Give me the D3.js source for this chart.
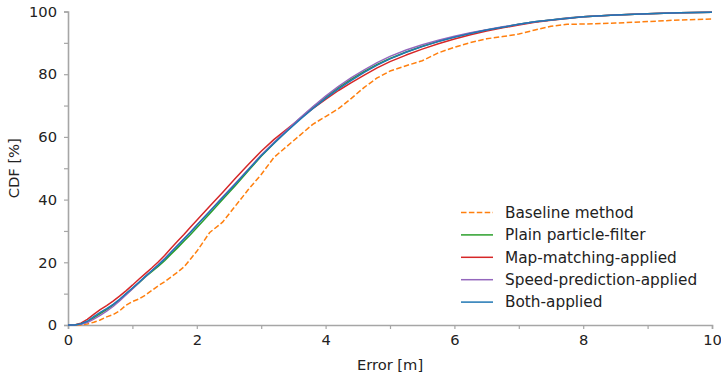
<!DOCTYPE html>
<html>
<head>
<meta charset="utf-8">
<script src="https://cdn.jsdelivr.net/npm/d3@7"></script>
<style>
  html, body { margin: 0; padding: 0; background: #fff; }
  svg { display: block; }
  text { font-family: "DejaVu Sans", sans-serif; fill: #222; }
</style>
</head>
<body>
<svg id="chart" width="721" height="377"></svg>
<script>
// Localisation error grid (m)
const errorGrid = [0,0.1,0.2,0.3,0.4,0.5,0.6,0.7,0.8,0.9,1.0,1.1,1.2,1.3,1.4,1.5,1.6,1.7,1.8,1.9,2.0,
  2.2,2.4,2.6,2.8,3.0,3.2,3.4,3.6,3.8,4.0,4.2,4.4,4.6,4.8,5.0,
  5.25,5.5,5.75,6.0,6.25,6.5,6.75,7.0,7.25,7.5,7.75,8.0,8.5,9.0,9.5,10.0];

// Cumulative share of samples (%) at each grid point
const baseline = [0,0,0,0.3,0.9,1.6,2.6,3.3,4.5,6.3,7.5,8.3,9.5,11.0,12.5,13.8,15.3,16.8,18.5,21.0,23.5,
  29.5,32.8,38.0,43.2,48.0,53.5,57.0,60.5,64.0,66.5,69.0,72.3,75.8,78.8,81.0,
  82.7,84.3,86.8,88.6,90.1,91.3,92.0,92.8,94.1,95.3,95.9,96.0,96.3,96.8,97.3,97.6];
const plainPF = [0,0,0.3,1.0,2.3,3.6,4.9,6.3,7.9,9.8,11.6,13.4,15.3,17.0,18.7,20.5,22.6,24.6,26.7,28.8,31.0,
  35.5,40.0,44.5,49.2,53.8,58.0,62.0,65.8,69.4,72.7,75.7,78.4,80.9,83.1,85.0,
  87.1,88.9,90.5,91.9,93.1,94.1,95.0,95.9,96.7,97.3,97.9,98.3,98.9,99.3,99.6,99.8];
const mapMatching = [0,0,0.6,1.8,3.4,4.9,6.2,7.6,9.2,10.9,12.7,14.6,16.4,18.2,20.1,22.2,24.5,26.7,28.9,31.2,33.4,
  37.9,42.3,46.8,51.2,55.4,59.2,62.5,65.8,69.0,72.0,74.8,77.3,79.7,82.0,84.0,
  86.1,88.0,89.7,91.2,92.6,93.8,94.8,95.7,96.6,97.2,97.8,98.3,98.9,99.3,99.6,99.8];
const speedPred = [0,0,0.2,0.8,1.9,3.1,4.4,5.9,7.7,9.6,11.5,13.5,15.4,17.3,19.2,21.2,23.3,25.4,27.5,29.7,31.9,
  36.3,40.8,45.2,49.7,54.2,58.3,62.2,66.0,69.6,73.0,76.1,78.9,81.4,83.7,85.7,
  87.7,89.4,90.8,92.1,93.2,94.2,95.1,95.9,96.7,97.3,97.9,98.3,98.9,99.3,99.6,99.8];
const bothApplied = [0,0,0.4,1.2,2.7,4.0,5.2,6.6,8.2,10.0,11.8,13.6,15.5,17.3,19.1,21.0,23.2,25.3,27.4,29.5,31.8,
  36.2,40.6,45.0,49.5,54.0,58.0,61.8,65.5,69.0,72.3,75.3,78.0,80.6,82.9,84.9,
  87.0,88.8,90.4,91.8,93.0,94.1,95.0,95.9,96.7,97.3,97.8,98.3,98.9,99.3,99.6,99.8];

const seriesNames = ["Baseline method", "Plain particle-filter", "Map-matching-applied",
  "Speed-prediction-applied", "Both-applied"];
const seriesValues = [baseline, plainPF, mapMatching, speedPred, bothApplied];
const seriesColors = ["#ff7f0e", "#2ca02c", "#d62728", "#9467bd", "#1f77b4"];
const seriesDash = ["5.5,2.4", null, null, null, null];

const xTicks = [0,1,2,3,4,5,6,7,8,9,10];
const yTicks = [0,10,20,30,40,50,60,70,80,90,100];
const xLabel = "Error [m]";
const yLabel = "CDF [%]";

const svg = d3.select("#chart");
const margin = {left: 68, right: 9, top: 11.5, bottom: 52};
const W = 721, H = 377;

const x = d3.scaleLinear().domain([0, 10]).range([margin.left, W - margin.right]);
const y = d3.scaleLinear().domain([0, 100]).range([H - margin.bottom, margin.top]);

const axisColor = "#a6a6a6";
const fs = 14.7;
const legendFs = 15.3;

// Axes
const xAxis = svg.append("g")
  .attr("transform", `translate(0,${y(0)})`)
  .call(d3.axisBottom(x).tickValues(xTicks).tickSize(4).tickPadding(6)
    .tickFormat(d => d % 2 === 0 ? d : ""));
const yAxis = svg.append("g")
  .attr("transform", `translate(${x(0)},0)`)
  .call(d3.axisLeft(y).tickValues(yTicks).tickSize(4).tickPadding(7)
    .tickFormat(d => d % 20 === 0 ? d : ""));
[xAxis, yAxis].forEach(g => {
  g.select(".domain").attr("stroke", axisColor).attr("stroke-width", 1.6);
  g.selectAll(".tick line").attr("stroke", axisColor).attr("stroke-width", 1.2);
  g.selectAll(".tick text").attr("font-size", fs).attr("font-family", "DejaVu Sans").attr("fill", "#222");
});

// Axis titles
svg.append("text").attr("x", (x(0) + x(10)) / 2).attr("y", 370)
  .attr("text-anchor", "middle").attr("font-size", fs).text(xLabel);
svg.append("text")
  .attr("transform", `translate(19,${(y(0) + y(100)) / 2}) rotate(-90)`)
  .attr("text-anchor", "middle").attr("font-size", fs).text(yLabel);

// CDF curves
const line = d3.line().x((d, i) => x(errorGrid[i])).y(d => y(d));
seriesValues.forEach((vals, k) => {
  svg.append("path")
    .datum(vals)
    .attr("d", line)
    .attr("fill", "none")
    .attr("stroke", seriesColors[k])
    .attr("stroke-width", 1.5)
    .attr("stroke-dasharray", seriesDash[k])
    .attr("stroke-linejoin", "round");
});

// Legend
const legend = svg.append("g").attr("transform", "translate(461,212.5)");
seriesNames.forEach((name, k) => {
  const row = legend.append("g").attr("transform", `translate(0,${k * 22.4})`);
  row.append("line").attr("x1", 0).attr("x2", 32).attr("y1", 0).attr("y2", 0)
    .attr("stroke", seriesColors[k]).attr("stroke-width", 1.5)
    .attr("stroke-dasharray", seriesDash[k]);
  row.append("text").attr("x", 44).attr("y", 0).attr("dy", "0.35em")
    .attr("font-size", legendFs).text(name);
});
</script>
</body>
</html>
